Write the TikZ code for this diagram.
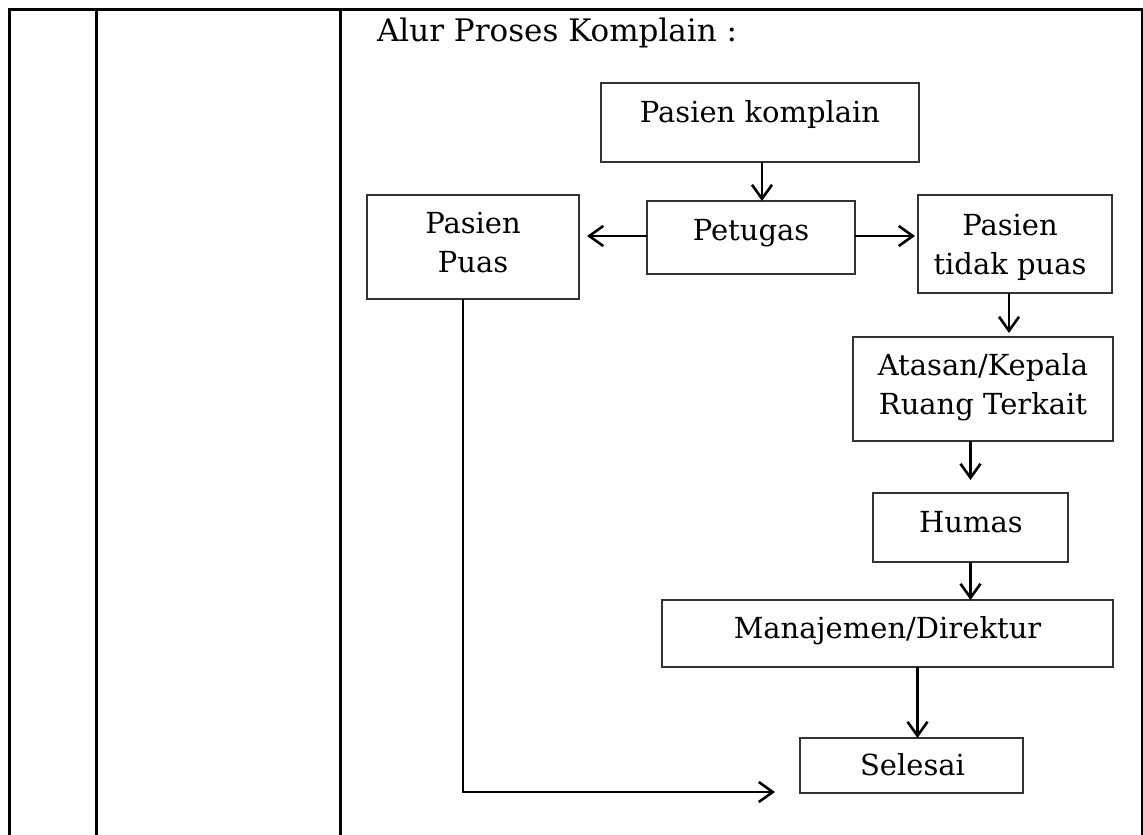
\documentclass[tikz,border=0pt]{standalone}
\usepackage{fontspec}
\setmainfont{DejaVu Serif}
\usetikzlibrary{arrows.meta,calc}

% two centred lines whose baseline is that of the first line
\newcommand\twolines[2]{\vtop{\baselineskip=19.5pt\halign{\hfil##\hfil\cr#1\cr#2\cr}}}

\begin{document}
\begin{tikzpicture}[x=0.5pt,y=-0.5pt,
  tbl/.style={line width=1.5pt,black},
  box/.style={draw=black!80,line width=0.75pt,inner sep=0pt,outer sep=0pt},
  txt/.style={inner sep=0pt,outer sep=0pt,anchor=base,font=\fontsize{14.5}{19.5}\selectfont},
  arrow/.style={line width=1.3pt,-{Straight Barb[length=7pt,width=10pt,line width=1.3pt]}}]
\useasboundingbox (0,0) rectangle (1143,834);

% table grid
\draw[tbl] (9,840) -- (9,10) -- (1142,10) -- (1142,840);
\draw[tbl] (96,10) -- (96,840);
\draw[tbl] (340,10) -- (340,840);

% heading
\node[txt,anchor=base west,font=\fontsize{15.5}{19.5}\selectfont] (title) at (377,42) {Alur Proses Komplain :};

% boxes
\node[box,minimum width=159pt,minimum height=39.5pt] (komplain) at (760,122.5) {};
\node[box,minimum width=104pt,minimum height=36.5pt] (petugas) at (751,237.5) {};
\node[box,minimum width=106pt,minimum height=52pt] (puas) at (473,247) {};
\node[box,minimum width=97pt,minimum height=49pt] (tidak) at (1015,244) {};
\node[box,minimum width=130pt,minimum height=52pt] (atasan) at (983,389) {};
\node[box,minimum width=97.5pt,minimum height=34.5pt] (humas) at (970.5,527.5) {};
\node[box,minimum width=225.5pt,minimum height=33.5pt] (manajemen) at (887.5,633.5) {};
\node[box,minimum width=111.5pt,minimum height=27.5pt] (selesai) at (911.5,765.5) {};

% box labels
\node[txt] (tkomplain) at (760,123) {Pasien komplain};
\node[txt] (tpetugas) at (751,240) {Petugas};
\node[txt] (tpuas) at (473,233) {\twolines{Pasien}{Puas}};
\node[txt] (ttidak) at (1010,235) {\twolines{Pasien}{tidak puas}};
\node[txt] (tatasan) at (983,375) {\twolines{Atasan/Kepala}{Ruang Terkait}};
\node[txt] (thumas) at (971,532) {Humas};
\node[txt] (tmanajemen) at (887.5,638) {Manajemen/Direktur};
\node[txt] (tselesai) at (912.5,775) {Selesai};

% connectors
\coordinate (puasend) at (775,792);
\draw[arrow] ([xshift=1pt]komplain.south) -- ([xshift=1pt]komplain.south |- petugas.north);
\draw[arrow] ([yshift=0.75pt]petugas.west) -- ($([yshift=0.75pt]petugas.west -| puas.east)+(8,0)$);
\draw[arrow] ([yshift=0.75pt]petugas.east) -- ($([yshift=0.75pt]petugas.east -| tidak.west)+(-3,0)$);
\draw[arrow] ([xshift=-3pt]tidak.south) -- ($([xshift=-3pt]tidak.south |- atasan.north)+(0,-4)$);
\draw[arrow] (atasan.south -| humas.north) -- ($(humas.north)+(0,-13)$);
\draw[arrow] (humas.south) -- (humas.south |- manajemen.north);
\draw[arrow] ([xshift=3pt]selesai.north |- manajemen.south) -- ([xshift=3pt]selesai.north);
\draw[arrow] ([xshift=-5pt]puas.south) |- (puasend);
\end{tikzpicture}
\end{document}
